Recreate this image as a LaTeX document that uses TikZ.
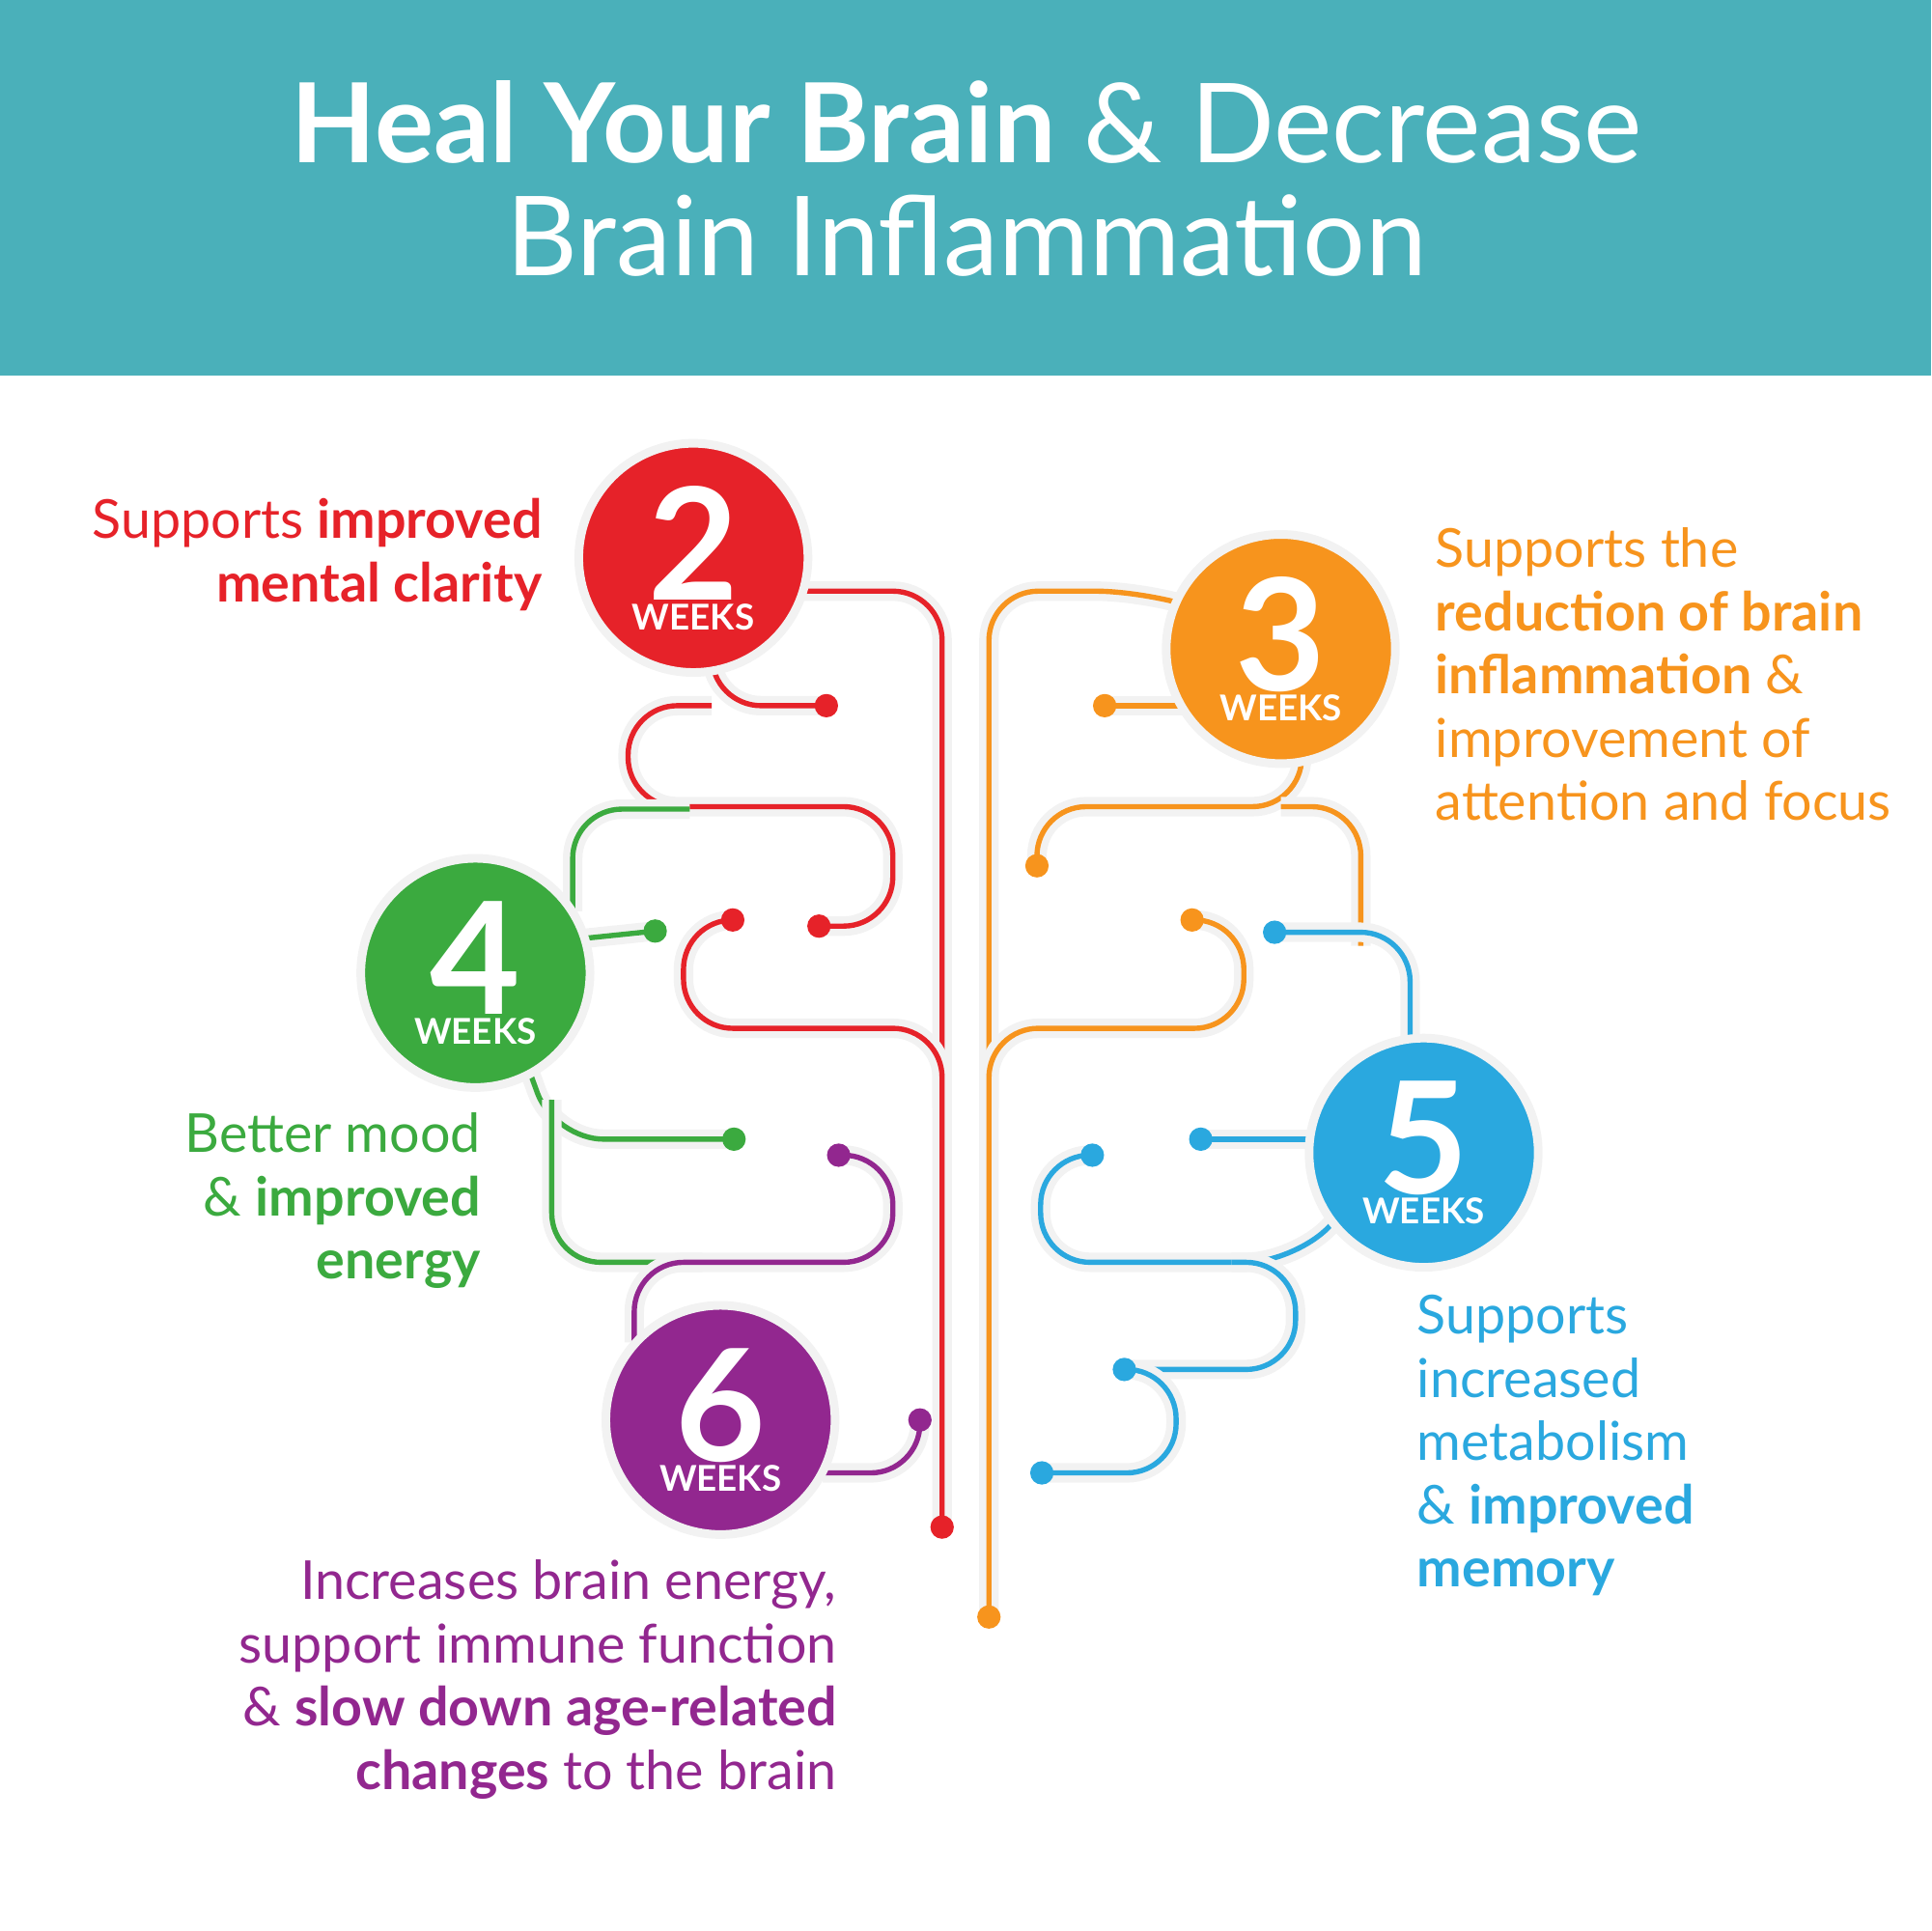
\documentclass[tikz,border=0pt]{standalone}
\usepackage{fontspec}
\setmainfont{Lato}
\usetikzlibrary{positioning,calc}
\definecolor{headteal}{HTML}{4AB0BA}
\definecolor{wkred}{HTML}{E62229}
\definecolor{wkorange}{HTML}{F7941D}
\definecolor{wkgreen}{HTML}{3BAA3F}
\definecolor{wkblue}{HTML}{2AA8DF}
\definecolor{wkpurple}{HTML}{92278F}
\tikzset{
	week/.style={
		circle,
		fill=#1,
		draw=black!5, line width=2pt,
		minimum size=1.86cm,
		inner sep=0pt,
		text=white,
		align=center,
	},
	dot/.style={
		circle,
		fill=#1,
		minimum size=0.19cm,
		inner sep=0pt,
	},
	vein/.style={
		draw=#1,
		line width=1.2pt,
		rounded corners=0.4cm,
		preaction={draw=black!5, line width=4.5pt},
	},
	blurb/.style={
		text=#1,
		inner sep=0pt,
		font=\fontsize{12.4}{14.6}\selectfont,
	},
}
\newcommand{\weeklabel}[1]{{\fontsize{36}{30}\selectfont\bfseries #1}\\[-5pt]{\fontsize{8.2}{9}\selectfont\bfseries WEEKS}}

\begin{document}
\begin{tikzpicture}[x=0.01cm,y=-0.01cm]
	\useasboundingbox (0,0) rectangle (1568,1568);
	
	% header band
	\fill[headteal] (0,0) rectangle (1568,305);
	\node[text=white, align=center, inner sep=0pt,
	font=\fontsize{25.5}{26}\selectfont] (TITLE) at (785,145)
	{\textbf{Heal Your Brain} \& Decrease\\Brain Inflammation};
	
	% end points of the veins
	\coordinate (r1) at (671,573);
	\coordinate (r2) at (665,752);
	\coordinate (r3) at (595,747);
	\coordinate (r4) at (765,1240);
	\coordinate (o1) at (897,573);
	\coordinate (o2) at (842,703);
	\coordinate (o3) at (968,747);
	\coordinate (o4) at (803,1313);
	\coordinate (g1) at (532,756);
	\coordinate (g2) at (596,925);
	\coordinate (p1) at (681,938);
	\coordinate (p2) at (747,1153);
	\coordinate (b1) at (1035,757);
	\coordinate (b2) at (975,925);
	\coordinate (b3) at (887,938);
	\coordinate (b4) at (913,1112);
	\coordinate (b5) at (846,1196);
	
	% red veins
	\draw[vein=wkred] (640,480) -- (765,480) -- (r4);
	\draw[vein=wkred] (578,540) -- (578,573) -- (r1);
	\draw[vein=wkred] (578,573) -- (510,573) -- (510,655) -- (725,655) -- (725,752) -- (r2);
	\draw[vein=wkred] (765,900) -- (765,835) -- (555,835) -- (555,747) -- (r3);
	
	% orange veins
	\draw[vein=wkorange] (960,490) -- (930,480) -- (803,480) -- (o4);
	\draw[vein=wkorange] (o1) -- (960,573);
	\draw[vein=wkorange] (1057,610) -- (1057,655) -- (842,655) -- (o2);
	\draw[vein=wkorange] (1040,655) -- (1105,655) -- (1105,768);
	\draw[vein=wkorange] (803,900) -- (803,835) -- (1010,835) -- (1010,747) -- (o3);
	
	% green veins
	\draw[vein=wkgreen] (465,740) -- (465,657) -- (560,657);
	\draw[vein=wkgreen] (474,762) -- (g1);
	\draw[vein=wkgreen] (430,870) -- (450,925) -- (g2);
	\draw[vein=wkgreen] (448,893) -- (448,1025) -- (570,1025);
	
	% purple veins
	\draw[vein=wkpurple] (p1) -- (725,938) -- (725,1025) -- (515,1025) -- (515,1090);
	\draw[vein=wkpurple] (668,1196) -- (747,1196) -- (p2);
	
	% blue veins
	\draw[vein=wkblue] (b1) -- (1145,757) -- (1145,850);
	\draw[vein=wkblue] (b2) -- (1070,925);
	\draw[vein=wkblue] (1085,990) -- (1052,1025) -- (845,1025) -- (845,938) -- (b3);
	\draw[vein=wkblue] (1000,1025) -- (1052,1025) -- (1052,1112) -- (b4);
	\draw[vein=wkblue] (b4) -- (955,1112) -- (955,1196) -- (b5);
	
	% end dots
	\foreach \p/\c in {r1/wkred,r2/wkred,r3/wkred,r4/wkred,
		o1/wkorange,o2/wkorange,o3/wkorange,o4/wkorange,
		g1/wkgreen,g2/wkgreen,p1/wkpurple,p2/wkpurple,
		b1/wkblue,b2/wkblue,b3/wkblue,b4/wkblue,b5/wkblue}
	\node[dot=\c] (dot-\p) at (\p) {};
	
	% week circles
	\node[week=wkred] (W2) at (563,453) {\weeklabel{2}};
	\node[week=wkorange] (W3) at (1040,527) {\weeklabel{3}};
	\node[week=wkgreen] (W4) at (386,790) {\weeklabel{4}};
	\node[week=wkblue] (W5) at (1156,936) {\weeklabel{5}};
	\node[week=wkpurple] (W6) at (585,1153) {\weeklabel{6}};
	
	% texts
	\node[blurb=wkred, anchor=north east, align=right] (T2) at (441,404)
	{Supports \textbf{improved}\\\textbf{mental clarity}};
	\node[blurb=wkorange, anchor=north west, align=left] (T3) at (1165,428)
	{Supports the\\\textbf{reduction of brain}\\\textbf{inflammation} \&\\improvement of\\attention and focus};
	\node[blurb=wkgreen, anchor=north east, align=right] (T4) at (391,903)
	{Better mood\\\& \textbf{improved}\\\textbf{energy}};
	\node[blurb=wkblue, anchor=north west, align=left] (T5) at (1150,1051)
	{Supports\\increased\\metabolism\\\& \textbf{improved}\\\textbf{memory}};
	\node[blurb=wkpurple, anchor=north east, align=right] (T6) at (680,1266)
	{Increases brain energy,\\support immune function\\\& \textbf{slow down age-related}\\\textbf{changes} to the brain};
\end{tikzpicture}
\end{document}
